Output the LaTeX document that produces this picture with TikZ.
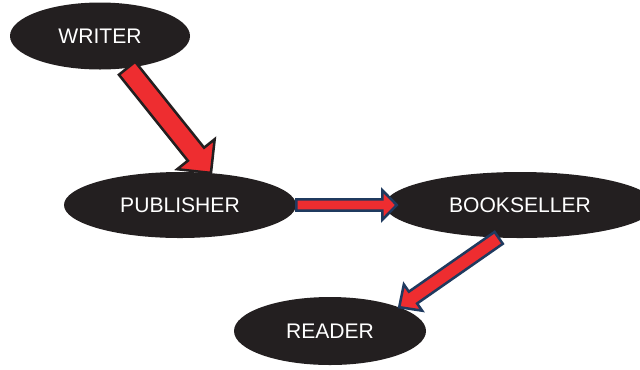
\documentclass[tikz,border=0pt]{standalone}
\usepackage{fontspec}
\setmainfont{Liberation Sans}
\usetikzlibrary{shapes.geometric,calc}

\definecolor{inkblack}{HTML}{231F20}
\definecolor{arrowred}{HTML}{EE2D30}
\definecolor{navy}{HTML}{1F3A5F}

% block arrow: outline, half shaft, half head, head length, from, to
\newcommand{\bookarrow}[6]{%
  \coordinate (hb) at ($(#6)!#4!(#5)$);
  \draw[arrowbody,draw=#1]
    ($(#5)!#2!90:(#6)$) -- ($(hb)!#2!-90:(#5)$) -- ($(hb)!#3!-90:(#5)$) -- (#6)
    -- ($(hb)!#3!90:(#5)$) -- ($(hb)!#2!90:(#5)$) -- ($(#5)!#2!-90:(#6)$) -- cycle;
}

\begin{document}
\begin{tikzpicture}[node distance=1.5cm,
  stage/.style={ellipse,fill=inkblack,text=white,inner sep=0pt,font=\fontsize{15}{18}\selectfont},
  arrowbody/.style={fill=arrowred,line width=1.8pt,line join=miter}]
\useasboundingbox (0,0) rectangle (16,-9.225);

% Nodes
\node[stage,minimum width=4.5cm,minimum height=1.675cm] at (2.5,-0.9) (writer) {WRITER};
\node[stage,minimum width=5.8cm,minimum height=1.65cm,below of = writer,xshift=2cm,yshift=-2.725cm] (publisher) {PUBLISHER};
\node[stage,minimum width=6.75cm,minimum height=1.65cm,right of = publisher,xshift=7cm] (bookseller) {BOOKSELLER};
\node[stage,minimum width=4.8cm,minimum height=1.7cm,below of = publisher,xshift=3.75cm,yshift=-1.65cm] (reader) {READER};

%arrows
\bookarrow{inkblack}{0.26cm}{0.6cm}{0.6cm}{writer.-50}{publisher.46}
\bookarrow{navy}{0.14cm}{0.37cm}{0.36cm}{publisher.east}{$(bookseller.west)+(0.3,0)$}
\bookarrow{navy}{0.18cm}{0.4cm}{0.42cm}{bookseller.-123}{reader.19}

\end{tikzpicture}
\end{document}
